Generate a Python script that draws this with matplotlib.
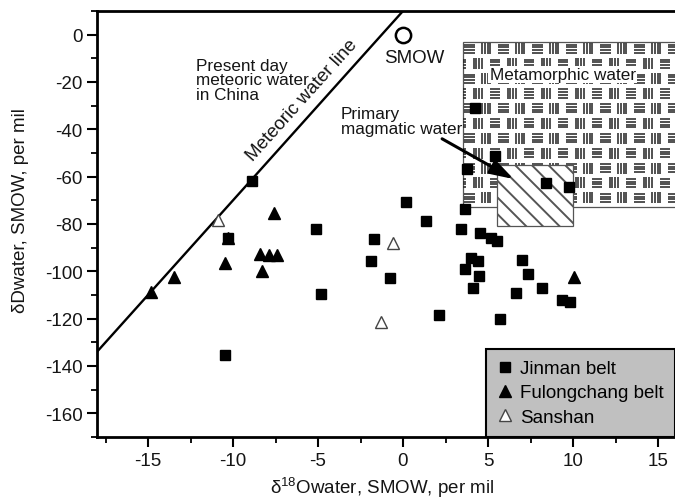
import numpy as np
import matplotlib
matplotlib.use('Agg')
import matplotlib.pyplot as plt
from matplotlib.patches import Rectangle
from matplotlib.collections import LineCollection
from matplotlib.ticker import MultipleLocator

plt.rcParams['font.family'] = ['Liberation Sans', 'DejaVu Sans']
plt.rcParams['mathtext.default'] = 'regular'
plt.rcParams['axes.unicode_minus'] = False
plt.rcParams['hatch.linewidth'] = 1.4

# Jinman belt (squares)
jinman_x = [-8.9, 0.2, -5.1, -1.7, -10.3, -1.9, -4.8, -10.5, -0.75, 1.35, 2.1,
            3.65, 3.4, 4.5, 5.2, 5.5, 4.0, 4.4, 3.65, 4.45, 4.1, 5.7, 7.0, 7.35,
            6.65, 8.2, 9.35, 9.8, 8.4, 9.75, 3.75, 4.25, 5.4]
jinman_y = [-62, -70.5, -82.3, -86.5, -86, -95.6, -109.5, -135.5, -102.7, -78.7, -118.3,
            -73.7, -82.1, -83.8, -86, -87.2, -94.4, -95.5, -99, -101.8, -107, -120, -95, -101,
            -109, -107, -112, -113, -62.8, -64.3, -56.8, -30.8, -51.2]

# Fulongchang belt (filled triangles)
fulong_x = [-14.8, -13.5, -10.3, -10.5, -7.6, -8.4, -8.3, -7.9, -7.4, 10.05]
fulong_y = [-108.6, -102.3, -86, -96.4, -75.4, -92.5, -99.8, -93.2, -93.2, -102.4]

# Sanshan (open triangles)
sanshan_x = [-10.9, -0.6, -1.3]
sanshan_y = [-78.3, -88, -121.3]

# SMOW and meteoric water line end points
smow_x = [0]
smow_y = [0]
mwl_x = [-18, 0]
mwl_y = [-134, 10]

# field boxes: x0, x1, y0, y1
metamorphic_box = [3.5, 17, -73, -3]
magmatic_box = [5.5, 10, -81, -55]

fig = plt.figure(figsize=(6.75, 5.02), dpi=100)
ax = fig.add_axes([97 / 675, 64 / 502, 578 / 675, 426 / 502])
ax.set_xlim(-18, 16)
ax.set_ylim(-170, 10)

txt = '#151515'

# metamorphic water field with brick pattern of = and ||| marks
mx0, mx1, my0, my1 = metamorphic_box
meta = Rectangle((mx0, my0), mx1 - mx0, my1 - my0, facecolor='white',
                 edgecolor='#555555', lw=0.9, zorder=1)
ax.add_patch(meta)
cw, ch = 1.0, 6.3
segs = []
nrows = int(np.ceil((my1 - my0) / ch))
ncols = int(np.ceil((mx1 - mx0) / cw)) + 2
for r in range(nrows):
    ytop = my1 - r * ch
    off = -0.5 * cw if r % 2 else 0.0
    for c in range(-1, ncols):
        x0 = mx0 + off + c * cw
        if c % 2 == 0:
            for k in range(4):
                yy = ytop - ch * (0.2 + 0.18 * k)
                segs.append([(x0 + 0.1 * cw, yy), (x0 + 0.72 * cw, yy)])
        else:
            for k in range(4):
                xx = x0 + cw * (0.16 + 0.16 * k)
                segs.append([(xx, ytop - 0.1 * ch), (xx, ytop - 0.84 * ch)])
lc = LineCollection(segs, colors='#222222', linewidths=1.1, zorder=1.5)
ax.add_collection(lc)
lc.set_clip_path(meta)

# primary magmatic water field
gx0, gx1, gy0, gy1 = magmatic_box
ax.add_patch(Rectangle((gx0, gy0), gx1 - gx0, gy1 - gy0, facecolor='white',
                       edgecolor='#555555', hatch='\\\\', lw=0.9, zorder=2))

# meteoric water line
ax.plot(mwl_x, mwl_y, color='black', lw=1.7, zorder=3)
slope = (mwl_y[1] - mwl_y[0]) / (mwl_x[1] - mwl_x[0])
ax.text(-5.95, -27.3, 'Meteoric water line', fontsize=13.5, color=txt,
        rotation=np.degrees(np.arctan(slope)), transform_rotates_text=True,
        rotation_mode='anchor', ha='center', va='center')

ax.plot(smow_x, smow_y, 'o', ms=11, mfc='none', mec='black', mew=1.8, zorder=4)
ax.text(0.65, -9.7, 'SMOW', fontsize=13.5, color=txt, ha='center', va='center')

ax.text(-12.2, -19, 'Present day\nmeteoric water\nin China', fontsize=12.3,
        color=txt, ha='left', va='center', linespacing=0.95)
ax.text(-3.65, -36.5, 'Primary\nmagmatic water', fontsize=12.3, color=txt,
        ha='left', va='center', linespacing=0.95)
ax.text(9.4, -16.8, 'Metamorphic water', fontsize=12.3, color=txt, ha='center',
        va='center', zorder=2.5,
        bbox=dict(facecolor='white', edgecolor='none', pad=1))

ax.annotate('', xy=(6.5, -61), xytext=(2.3, -44), zorder=6,
            arrowprops=dict(arrowstyle='-|>,head_length=0.7,head_width=0.22',
                            lw=2.2, color='black', shrinkA=0, shrinkB=0,
                            mutation_scale=20))

ax.plot(jinman_x, jinman_y, 's', ms=7.5, color='black', ls='none', zorder=5,
        label='Jinman belt')
ax.plot(fulong_x, fulong_y, '^', ms=9, color='black', ls='none', zorder=5,
        label='Fulongchang belt')
ax.plot(sanshan_x, sanshan_y, '^', ms=9, mfc='white', mec='#444444', mew=1,
        ls='none', zorder=5, label='Sanshan')

leg = ax.legend(loc='lower right', borderaxespad=0, fancybox=False,
                facecolor='#c0c0c0', edgecolor='black', framealpha=1,
                fontsize=13.5, handlelength=0.8, handletextpad=0.4,
                labelspacing=0.38, borderpad=0.6)
leg.get_frame().set_linewidth(1.5)
leg.set_zorder(7)

ax.xaxis.set_major_locator(MultipleLocator(5))
ax.xaxis.set_minor_locator(MultipleLocator(2.5))
ax.yaxis.set_major_locator(MultipleLocator(20))
ax.yaxis.set_minor_locator(MultipleLocator(10))
ax.tick_params(which='major', direction='out', length=7, width=1.5,
               labelsize=13.5, colors='black', labelcolor=txt)
ax.tick_params(which='minor', direction='out', length=4, width=1.3)
ax.tick_params(top=False, right=False, which='both')
for side in ['left', 'bottom', 'top']:
    ax.spines[side].set_linewidth(2)
ax.spines['right'].set_visible(False)

ax.set_xlabel('δ$^{18}$Owater, SMOW, per mil', fontsize=13.5, color=txt)
ax.set_ylabel('δDwater, SMOW, per mil', fontsize=13.5, color=txt)
ax.xaxis.set_label_coords(0.493, -0.088)
ax.yaxis.set_label_coords(-0.118, 0.533)

fig.savefig('out.png', dpi=100)
